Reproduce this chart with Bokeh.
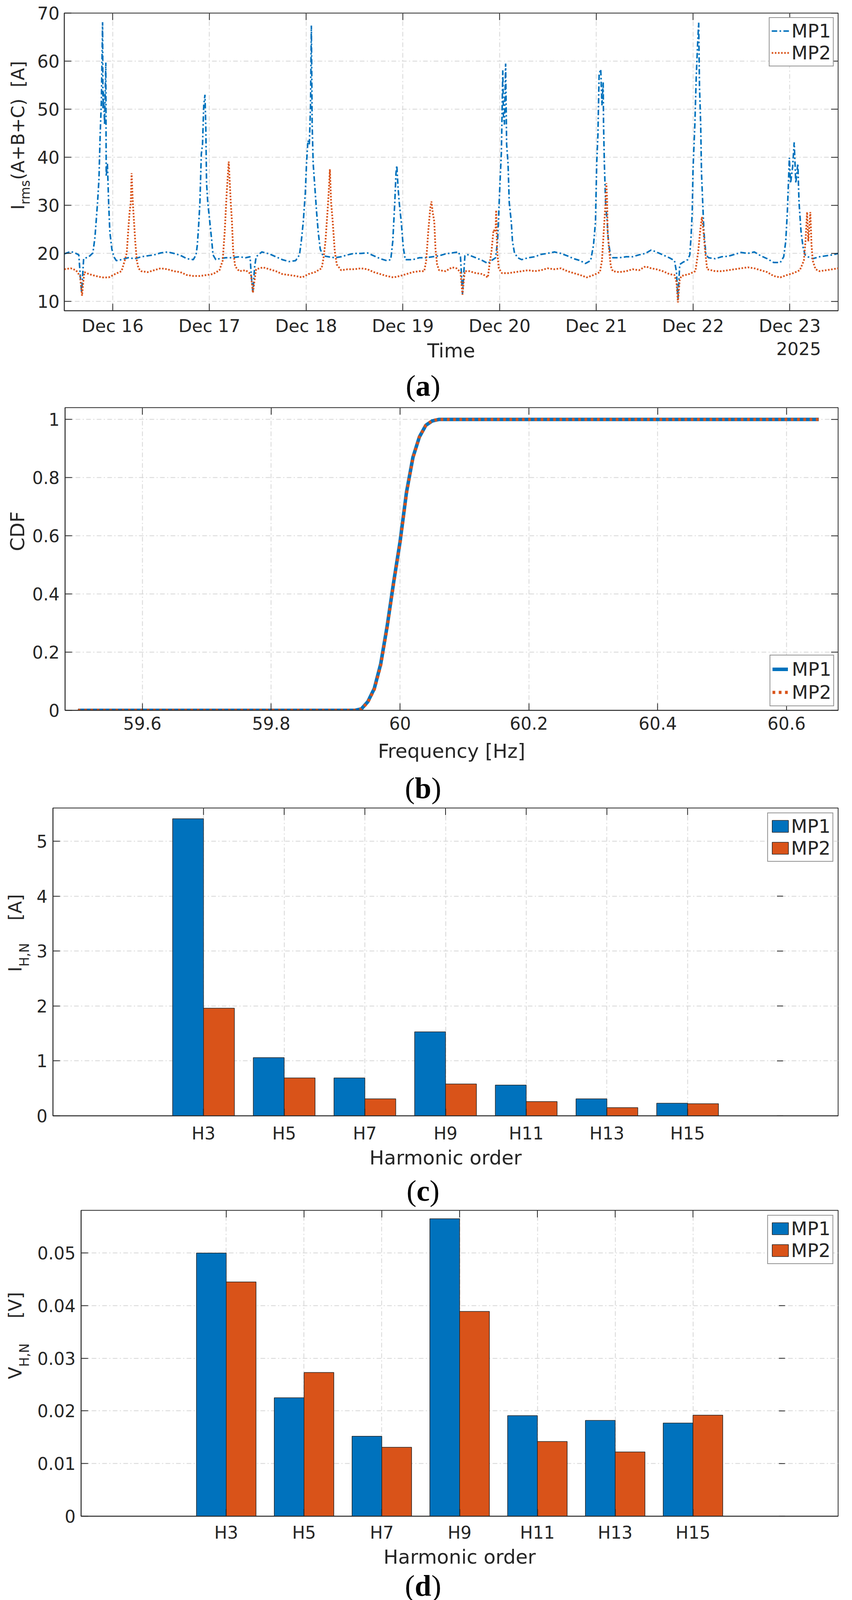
import numpy as np
import pandas as pd
from bokeh.plotting import figure
from bokeh.layouts import column, row
from bokeh.models import (ColumnDataSource, FixedTicker, DatetimeTickFormatter,
                          FactorRange, Range1d, Label)
from bokeh.transform import dodge
from bokeh.embed import file_html
from bokeh.resources import INLINE

# ---------------- (a) summed rms current, hours after 2025-12-15 12:00 ----------------
series_start = "2025-12-15 12:00"
series_end = "2025-12-23 12:00"
day_ticks = ["2025-12-16", "2025-12-17", "2025-12-18", "2025-12-19",
             "2025-12-20", "2025-12-21", "2025-12-22", "2025-12-23"]
irms_ticks = [10, 20, 30, 40, 50, 60, 70]

mp1_hours = [
    0, 1.6, 2.9, 3.6, 4.0, 4.3, 4.6, 4.8, 6.1, 7.1,
    7.6, 7.9, 8.25, 8.6, 8.9, 9.2, 9.5, 9.6, 9.7, 10.0,
    10.3, 10.4, 10.7, 11.0, 11.3, 11.8, 12.3, 12.9, 14.2, 15.85,
    17.5, 19.1, 20.7, 22.3, 23.9, 25.6, 27.2, 28.8, 30.4, 32.0,
    32.7, 33.0, 33.3, 33.65, 34.0, 34.3, 34.6, 34.9, 35.1, 35.3,
    35.6, 36.1, 36.6, 36.9, 37.6, 38.5, 40.1, 41.7, 43.4, 45.0,
    46.1, 46.4, 46.8, 47.2, 47.6,
    49.0, 50.9, 52.5, 54.1, 55.8, 57.4, 58.35, 58.8, 59.3, 59.8,
    60.1, 60.45, 60.8, 61.1, 61.3, 61.5, 61.75, 62.1, 62.6, 63.0,
    63.5, 64.2, 65.5, 67.1, 68.7, 70.3, 71.9, 73.6, 75.2, 76.8,
    78.4, 80.0, 81.0, 81.5, 82.0, 82.3, 82.5, 82.8, 83.1, 83.6,
    84.1, 84.6, 86.5, 88.1, 89.7, 91.4, 93.0, 94.6, 96.2,
    97.0, 97.8, 98.3, 98.8, 99.2, 99.4, 99.9, 102.1, 103.8, 105.1,
    106.0, 107.0, 107.5, 107.8, 108.1, 108.45, 108.8, 108.95, 109.2, 109.5,
    109.75, 110.1, 110.4, 110.9, 111.2, 111.7, 112.5, 113.5, 115.1, 116.7,
    118.3, 119.9, 121.6, 123.2, 124.8, 126.4, 128.0, 129.3, 130.6, 131.3,
    131.8, 132.1, 132.4, 132.7, 133.1, 133.4, 133.7, 133.8, 134.0, 134.3,
    134.7, 135.0, 135.5, 136.1, 137.7, 139.4, 141.0, 142.6, 144.2,
    145.6, 146.9, 148.5, 150.1, 151.4, 151.9, 152.25, 152.7, 153.4, 154.7,
    155.2, 155.5, 155.8, 156.0, 156.45, 156.8, 157.1, 157.4, 157.6, 157.9,
    158.1, 158.4, 158.7, 159.2, 159.85, 161.5, 163.1, 164.7, 166.3, 167.9,
    169.6, 171.2, 172.8, 174.4, 176.0, 177.65, 178.5, 179.0, 179.4, 179.9,
    180.2, 180.7, 181.1, 181.5, 182.0, 182.3, 182.8, 183.3, 183.8, 184.5,
    185.7, 187.4, 189.0, 190.6, 192.0,
]
mp1_irms = [
    19.9, 20.4, 20.0, 19.7, 15.0, 11.8, 16.0, 18.9, 19.3, 20.1,
    23.3, 26.6, 30.6, 35.4, 44.7, 51.6, 68.1, 50.0, 53.6, 46.8,
    59.7, 36.0, 38.7, 30.6, 24.5, 20.9, 19.3, 18.5, 18.7, 19.1,
    18.9, 19.3, 19.5, 19.7, 20.1, 20.3, 20.0, 19.6, 18.9, 18.7,
    19.7, 21.7, 25.3, 30.6, 40.7, 42.7, 50.8, 53.0, 46.8, 34.6,
    30.6, 26.6, 22.5, 19.7, 18.7, 18.9, 19.1, 19.1, 19.3, 19.1,
    19.3, 15.3, 11.8, 17.0, 19.3,
    20.3, 19.9, 19.3, 18.7, 18.3, 18.5, 19.7, 22.5, 26.6, 32.6,
    38.7, 43.5, 42.7, 50.8, 67.4, 46.8, 38.7, 34.6, 28.6, 24.5,
    20.9, 19.5, 19.3, 19.1, 19.3, 19.7, 20.0, 20.0, 20.1, 19.5,
    18.9, 18.5, 18.7, 22.5, 30.6, 36.7, 38.3, 33.8, 30.6, 26.6,
    21.3, 18.7, 18.7, 19.1, 19.1, 19.3, 19.5, 19.9, 20.1,
    20.2, 20.3, 19.3, 11.6, 17.0, 19.5, 19.8, 19.1, 18.5, 17.9,
    18.5, 19.1, 22.5, 28.6, 34.6, 41.1, 58.1, 48.8, 46.8, 59.5,
    42.7, 38.7, 30.6, 26.6, 22.5, 20.1, 19.1, 18.7, 19.1, 19.3,
    19.8, 20.0, 20.3, 20.0, 19.5, 18.9, 18.5, 17.9, 18.5, 21.7,
    26.6, 38.7, 44.7, 57.3, 58.3, 50.8, 55.6, 46.8, 38.7, 30.6,
    26.6, 22.5, 19.7, 19.1, 19.1, 19.3, 19.3, 19.7, 20.0,
    20.7, 20.3, 19.7, 19.1, 18.5, 16.1, 10.4, 17.7, 18.1, 18.7,
    19.7, 23.3, 28.6, 37.5, 46.8, 56.8, 62.9, 68.0, 54.8, 46.8,
    36.7, 30.6, 24.5, 19.7, 19.1, 18.9, 19.3, 19.4, 19.8, 20.2,
    20.0, 20.3, 19.5, 18.9, 18.1, 18.1, 19.3, 22.5, 28.6, 39.9,
    34.6, 37.9, 43.1, 34.6, 38.7, 30.6, 24.5, 21.3, 19.7, 19.3,
    18.9, 19.3, 19.5, 19.7, 20.0,
]

mp2_hours = [
    0, 1.6, 2.9, 3.9, 4.4, 4.7, 5.0, 6.1, 7.8, 9.4,
    11.0, 12.6, 14.2, 15.0, 15.5, 15.85, 16.2, 16.5, 16.7, 17.0,
    17.3, 17.6, 18.0, 18.4, 19.1, 20.7, 22.3, 23.9, 25.6, 27.2,
    28.8, 30.4, 32.0, 33.65, 35.3, 36.9, 38.5, 39.3, 39.8, 40.3,
    40.8, 41.3, 41.6, 41.9, 42.4, 43.4, 45.0, 46.3, 46.8, 47.3,
    47.6,
    49.3, 50.9, 52.5, 54.1, 55.8, 57.4, 59.0, 60.6, 62.2, 63.85,
    64.3, 64.8, 65.3, 65.6, 65.9, 66.2, 66.6, 67.1, 67.6, 68.7,
    70.3, 71.9, 73.6, 75.2, 76.8, 78.4, 80.0, 81.65, 83.3, 84.9,
    86.5, 88.1, 89.3, 89.8, 90.3, 90.8, 91.1, 91.4, 91.8, 92.1,
    92.5, 93.0, 94.6, 96.2,
    97.3, 98.3, 98.8, 99.2, 99.4, 100.5, 102.1, 103.8, 105.1, 105.5,
    106.0, 106.5, 107.0, 107.15, 107.4, 107.8, 108.6, 110.2, 111.85, 113.5,
    115.1, 116.7, 118.3, 119.9, 121.6, 123.2, 124.8, 126.4, 128.0, 129.65,
    131.3, 132.9, 133.4, 133.7, 134.0, 134.3, 134.5, 134.7, 134.8, 135.2,
    135.6, 136.1, 137.7, 139.4, 141.0, 142.6, 144.2,
    145.6, 146.9, 148.5, 150.1, 151.4, 151.9, 152.25, 152.7, 153.1, 155.0,
    156.6, 157.3, 157.75, 158.2, 158.6, 159.0, 159.5, 161.5, 163.1, 164.7,
    166.3, 167.9, 169.6, 171.2, 172.8, 174.4, 176.0, 177.65, 179.3, 180.9,
    182.5, 183.5, 183.9, 184.3, 184.6, 185.1, 185.4, 185.7, 186.4, 187.4,
    189.0, 190.6, 192.0,
]
mp2_irms = [
    16.7, 16.9, 16.5, 15.3, 11.2, 14.0, 16.1, 15.7, 15.3, 15.0,
    15.0, 15.7, 16.3, 18.5, 20.1, 24.5, 28.6, 30.6, 36.7, 30.6,
    26.6, 22.5, 18.5, 16.9, 16.3, 16.1, 16.5, 16.9, 16.7, 16.3,
    16.1, 15.5, 15.3, 15.3, 15.5, 15.7, 16.5, 18.5, 24.5, 32.6,
    39.1, 30.6, 26.6, 20.5, 17.3, 16.3, 16.5, 15.7, 11.8, 15.0,
    16.7,
    17.1, 16.7, 16.3, 15.7, 15.5, 15.3, 15.0, 15.7, 16.1, 16.9,
    18.9, 22.5, 28.6, 32.6, 37.5, 30.6, 26.6, 20.5, 17.7, 16.5,
    16.7, 16.7, 16.9, 16.7, 16.1, 15.7, 15.3, 15.0, 15.3, 15.7,
    16.1, 16.3, 16.3, 18.5, 24.5, 29.4, 30.8, 28.6, 26.6, 20.9,
    17.7, 16.5, 16.3, 17.1,
    16.9, 16.1, 11.4, 15.0, 16.3, 16.3, 15.9, 15.7, 15.0, 17.7,
    20.5, 24.9, 24.5, 29.0, 20.5, 16.9, 15.9, 15.9, 16.1, 16.3,
    16.5, 16.3, 16.5, 16.9, 16.7, 16.9, 16.3, 15.9, 15.5, 15.0,
    15.5, 16.1, 18.5, 22.5, 26.6, 30.6, 34.6, 30.6, 24.5, 20.5,
    17.3, 16.3, 16.1, 16.3, 16.7, 16.5, 17.3,
    16.9, 16.7, 16.3, 15.7, 15.5, 14.0, 9.8, 14.5, 15.3, 15.7,
    16.3, 20.5, 24.5, 27.6, 24.5, 20.5, 16.7, 16.3, 16.3, 16.5,
    16.7, 16.9, 17.1, 16.9, 16.5, 16.1, 15.3, 15.0, 15.5, 15.9,
    16.5, 18.5, 22.5, 28.6, 22.5, 28.6, 21.7, 18.5, 16.7, 16.3,
    16.5, 16.7, 16.9,
]

# ---------------- (b) frequency CDF ----------------
freq_hz = [59.50, 59.93, 59.94, 59.95, 59.96, 59.97, 59.98, 59.99,
           60.00, 60.01, 60.02, 60.03, 60.04, 60.05, 60.06, 60.65]
cdf_mp1 = [0, 0, 0.005, 0.03, 0.075, 0.16, 0.29, 0.44,
           0.58, 0.75, 0.87, 0.94, 0.98, 0.995, 1.0, 1.0]
cdf_mp2 = [0, 0, 0.004, 0.028, 0.072, 0.155, 0.285, 0.435,
           0.575, 0.745, 0.868, 0.94, 0.98, 0.996, 1.0, 1.0]
freq_ticks = [59.6, 59.8, 60.0, 60.2, 60.4, 60.6]
cdf_ticks = [0, 0.2, 0.4, 0.6, 0.8, 1.0]

# ---------------- (c), (d) neutral harmonics ----------------
harmonics = ["H3", "H5", "H7", "H9", "H11", "H13", "H15"]
ihn_mp1 = [5.41, 1.06, 0.69, 1.53, 0.56, 0.31, 0.23]
ihn_mp2 = [1.96, 0.69, 0.31, 0.58, 0.26, 0.15, 0.22]
ihn_ticks = [0, 1, 2, 3, 4, 5]
vhn_mp1 = [0.0500, 0.0225, 0.0152, 0.0565, 0.0191, 0.0182, 0.0177]
vhn_mp2 = [0.0445, 0.0273, 0.0131, 0.0389, 0.0142, 0.0122, 0.0192]
vhn_ticks = [0, 0.01, 0.02, 0.03, 0.04, 0.05]

assert len(mp1_hours) == len(mp1_irms) and len(mp2_hours) == len(mp2_irms)

FONT = "DejaVu Sans"
SERIF = "Liberation Serif"
INK = "#262626"
BLUE = "#0072BD"
ORANGE = "#D95319"
W = 2164
TICK = 18  # inward tick length, px

# DejaVu Sans advance widths (em) to lay out the split y titles
ADV = {"I": .295, "r": .411, "m": .974, "s": .521, "(": .390, ")": .390, "A": .684,
       "+": .838, "B": .686, "C": .698, "[": .390, "]": .390, "H": .752, ",": .318,
       "N": .748, "V": .684, "D": .770, "F": .575}


def text_width(s, size):
    return sum(ADV[c] for c in s) * size


def style(p, tick_px="44px"):
    p.outline_line_color = INK
    p.outline_line_width = 2
    p.background_fill_color = "white"
    p.border_fill_color = "white"
    for ax in p.axis:
        ax.axis_line_color = INK
        ax.axis_line_width = 2
        ax.major_tick_in = TICK
        ax.major_tick_out = 0
        ax.major_tick_line_color = INK
        ax.major_tick_line_width = 2
        ax.minor_tick_line_color = None
        ax.major_label_text_font = FONT
        ax.major_label_text_font_size = tick_px
        ax.major_label_text_color = INK
    for g in p.grid:
        g.grid_line_color = "#d6d6d6"
        g.grid_line_dash = "12 6 3 6"
        g.grid_line_width = 2


def edge_ticks(p, top_x, y_top, dy, right_y, x_right, dx):
    # MATLAB "box on": inward tick marks along the top and right edges
    n, m = len(top_x), len(right_y)
    p.segment(x0=top_x, y0=[y_top] * n, x1=top_x, y1=[y_top - dy] * n,
              line_color=INK, line_width=2)
    p.segment(x0=[x_right] * m, y0=right_y, x1=[x_right - dx] * m, y1=right_y,
              line_color=INK, line_width=2)


def legend_style(p, loc, margin, glyph_w, glyph_h, row_h, standoff):
    lg = p.legend
    lg.location = loc
    lg.margin = margin
    lg.padding = 5
    lg.spacing = 0
    lg.label_text_font = FONT
    lg.label_text_font_size = "48px"
    lg.label_text_color = INK
    lg.glyph_width = glyph_w
    lg.glyph_height = glyph_h
    lg.label_height = row_h
    lg.label_standoff = standoff
    lg.border_line_color = INK
    lg.border_line_width = 2
    lg.background_fill_alpha = 1.0


def bare(width, height):
    # label-only strip: no axes, frame fills the canvas
    p = figure(width=width, height=height, x_range=Range1d(0, 1), y_range=Range1d(0, 1),
               x_axis_location=None, y_axis_location=None, min_border=0,
               output_backend="svg", toolbar_location=None)
    p.outline_line_color = None
    p.background_fill_color = "white"
    p.border_fill_color = "white"
    for g in p.grid:
        g.visible = False
    return p


def note(p, text, x, y, size, align="center", font=FONT, style_="normal", angle=0.0, color=INK):
    p.add_layout(Label(x=x, y=y, x_units="screen", y_units="screen", text=text, angle=angle,
                       text_font=font, text_font_size=f"{size}px", text_font_style=style_,
                       text_color=color, text_align=align, text_baseline="middle"))


def ytitle(p, parts, y_mid):
    # parts: (text, size px, x of the text's middle, gap before); reads bottom to top
    total = sum(text_width(t, s) + g for t, s, _, g in parts)
    y = y_mid - total / 2
    for t, s, x, g in parts:
        y += g
        note(p, t, x, y, s, align="left", angle=np.pi / 2)
        y += text_width(t, s)


def tag(p, letter, cx, y, size=76):
    wp = 0.333 * size
    wl = {"a": 0.5, "b": 0.556, "c": 0.444, "d": 0.556}[letter] * size
    x0 = cx - (2 * wp + wl) / 2
    note(p, "(", x0, y, size, "left", SERIF, "normal", color="black")
    note(p, letter, x0 + wp, y, size, "left", SERIF, "bold", color="black")
    note(p, ")", x0 + wp + wl, y, size, "left", SERIF, "normal", color="black")


def overrides(ticks):
    return {t: f"{t:g}" for t in ticks}


# ---------------- panel (a) ----------------
t0 = pd.Timestamp(series_start).value / 1e6
t1 = pd.Timestamp(series_end).value / 1e6
day_ms = [pd.Timestamp(d).value / 1e6 for d in day_ticks]
mp1_t = t0 + np.array(mp1_hours) * 3.6e6
mp2_t = t0 + np.array(mp2_hours) * 3.6e6
ya_lo, ya_hi = 8.07, 70

pa = figure(width=W - 92, height=863, x_axis_type="datetime",
            x_range=Range1d(t0, t1), y_range=Range1d(ya_lo, ya_hi),
            min_border_left=72, min_border_right=20, min_border_top=33, min_border_bottom=68,
            output_backend="svg", toolbar_location=None)
pa.line(mp1_t, mp1_irms, color=BLUE, line_width=4, line_dash="14 6 4 6", legend_label="MP1")
pa.line(mp2_t, mp2_irms, color=ORANGE, line_width=4.5, line_dash="4 4", legend_label="MP2")
pa.xaxis.ticker = FixedTicker(ticks=day_ms)
pa.xaxis.formatter = DatetimeTickFormatter(days="%b %d", hours="%b %d", months="%b %d",
                                           minutes="%b %d", years="%b %d")
pa.yaxis.ticker = FixedTicker(ticks=irms_ticks)
style(pa, "45px")
pa.xaxis.major_label_standoff = 12
pa.yaxis.major_label_standoff = 12
edge_ticks(pa, day_ms, ya_hi, TICK / 762 * (ya_hi - ya_lo),
           irms_ticks, t1, TICK / 1980 * (t1 - t0))
legend_style(pa, "top_right", 11, 45, 40, 55, 6)

ya = bare(92, 863)
ytitle(ya, [("I", 46, 45, 0), ("rms", 33, 64, 0), ("(A+B+C)", 46, 45, 0), ("[A]", 46, 45, 29)], 68 + 381)
xa = bare(W, 171)
note(xa, "Time", 1154, 137, 50)
note(xa, "2025", 2043, 142, 45)
tag(xa, "a", 1082, 48)

# ---------------- panel (b) ----------------
pb = figure(width=W - 76, height=855, x_range=Range1d(59.48, 60.68), y_range=Range1d(0, 1.0407),
            min_border_left=90, min_border_right=20, min_border_top=9, min_border_bottom=71,
            output_backend="svg", toolbar_location=None)
pb.line(freq_hz, cdf_mp1, color=BLUE, line_width=9, legend_label="MP1")
pb.line(freq_hz, cdf_mp2, color=ORANGE, line_width=8, line_dash="7 9", legend_label="MP2")
pb.xaxis.ticker = FixedTicker(ticks=freq_ticks)
pb.xaxis.major_label_overrides = overrides(freq_ticks)
pb.yaxis.ticker = FixedTicker(ticks=cdf_ticks)
pb.yaxis.major_label_overrides = overrides(cdf_ticks)
style(pb)
pb.xaxis.major_label_standoff = 16
pb.yaxis.major_label_standoff = 14
edge_ticks(pb, freq_ticks, 1.0407, TICK / 775 * 1.0407, cdf_ticks, 60.68, TICK / 1978 * 1.2)
legend_style(pb, "bottom_right", 10, 40, 40, 59, 10)

yb = bare(76, 855)
ytitle(yb, [("CDF", 50, 44, 0)], 71 + 387.5)
xb = bare(W, 175)
note(xb, "Frequency [Hz]", 1155, 142, 50)
tag(xb, "b", 1082, 48)


# ---------------- panels (c) and (d) ----------------
def bar_panel(mp1, mp2, ticks, top, width, height, left, border_top, border_bottom, std):
    p = figure(width=width, height=height,
               x_range=FactorRange(*harmonics, range_padding=1.366, range_padding_units="absolute"),
               y_range=Range1d(0, top),
               min_border_left=left, min_border_right=20, min_border_top=border_top,
               min_border_bottom=border_bottom, output_backend="svg", toolbar_location=None)
    src = ColumnDataSource(dict(harmonic=harmonics, mp1=mp1, mp2=mp2))
    p.vbar(x=dodge("harmonic", -0.1915, range=p.x_range), top="mp1", width=0.383, source=src,
           fill_color=BLUE, line_color=INK, line_width=1.5, legend_label="MP1")
    p.vbar(x=dodge("harmonic", 0.1915, range=p.x_range), top="mp2", width=0.383, source=src,
           fill_color=ORANGE, line_color=INK, line_width=1.5, legend_label="MP2")
    p.yaxis.ticker = FixedTicker(ticks=ticks)
    p.yaxis.major_label_overrides = overrides(ticks)
    style(p)
    p.xaxis.major_label_standoff = std
    p.yaxis.major_label_standoff = 14
    frame_w = width - left - 20
    frame_h = height - border_top - border_bottom
    # top edge ticks at the categories, right edge ticks at the value ticks
    n = len(harmonics)
    p.segment(x0=harmonics, y0=[top] * n, x1=harmonics, y1=[top - TICK / frame_h * top] * n,
              line_color=INK, line_width=2)
    unit = frame_w / (n + 1.366)          # px per category
    edge = ColumnDataSource(dict(f=[harmonics[-1]] * len(ticks), y=ticks))
    p.segment(x0=dodge("f", 1.183, range=p.x_range), y0="y",
              x1=dodge("f", 1.183 - TICK / unit, range=p.x_range), y1="y",
              source=edge, line_color=INK, line_width=2)
    legend_style(p, "top_right", 12, 52, 38, 56, 2)
    return p


pc = bar_panel(ihn_mp1, ihn_mp2, ihn_ticks, 5.605, W - 88, 866, 47, 4, 74, 19)
yc = bare(88, 866)
ytitle(yc, [("I", 46, 38, 0), ("H,N", 33, 62, 0), ("[A]", 46, 38, 58)], 74 + 394)
xc = bare(W, 163)
note(xc, "Harmonic order", 1139.5, 130, 50)
tag(xc, "c", 1082, 46)

pd_ = bar_panel(vhn_mp1, vhn_mp2, vhn_ticks, 0.0581, W - 92, 859, 115, 5, 71, 16)
yd = bare(92, 859)
ytitle(yd, [("V", 46, 38, 0), ("H,N", 33, 62, 0), ("[V]", 46, 38, 64)], 71 + 391.5)
xd = bare(W, 168)
note(xd, "Harmonic order", 1175.5, 135, 50)
tag(xd, "d", 1082, 62)

layout = column(row(ya, pa), xa, row(yb, pb), xb, row(yc, pc), xc, row(yd, pd_), xd, spacing=0)
open("out.html", "w").write(file_html(layout, INLINE))
